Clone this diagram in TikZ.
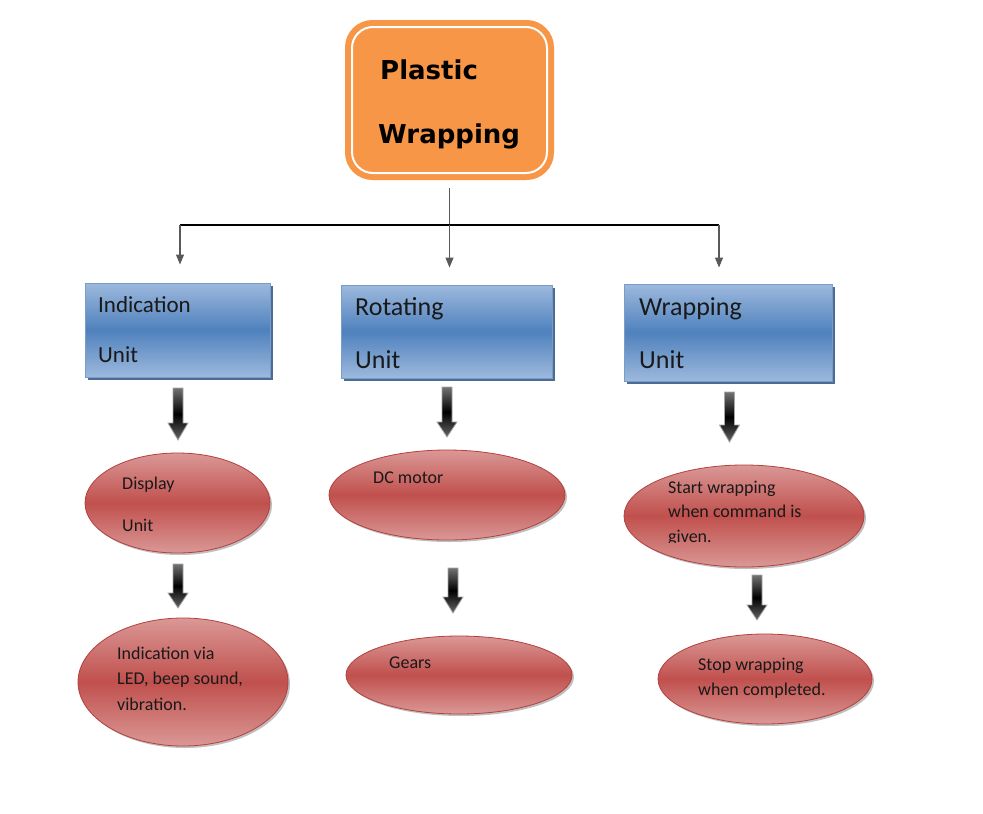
\documentclass[tikz,border=0pt]{standalone}
\usepackage{fontspec}
\setmainfont{Carlito}
\newfontfamily\headfont{DejaVu Sans}
\usetikzlibrary{arrows.meta,shapes.geometric,shadows}
\definecolor{orfill}{HTML}{F79646}
\definecolor{bluemid}{HTML}{4F81BD}
\definecolor{bluelight}{HTML}{9DB9DD}
\definecolor{blueedge}{HTML}{7A9CC8}
\definecolor{blueshadow}{HTML}{385D8A}
\definecolor{redmid}{HTML}{C0504D}
\definecolor{redlight}{HTML}{DA9896}
\definecolor{rededge}{HTML}{B5403D}
\tikzset{
  topbox/.style={draw=orfill, line width=3pt, fill=orfill, rounded corners=26pt,
    minimum width=206pt, minimum height=157pt, inner sep=0pt},
  unitbox/.style={draw=blueedge, line width=1pt, top color=bluelight, bottom color=bluelight,
    middle color=bluemid, inner sep=0pt,
    general shadow={shadow xshift=3pt, shadow yshift=-3pt, fill=blueshadow, opacity=0.9}},
  oval/.style={ellipse, draw=rededge, line width=0.8pt, top color=redlight, bottom color=redlight,
    middle color=redmid, inner sep=0pt,
    general shadow={shadow xshift=2pt, shadow yshift=-2pt, fill=black, opacity=0.25}},
  headtxt/.style={font=\headfont\bfseries\fontsize{26}{30}\selectfont, anchor=mid west, inner sep=0pt},
  unittxt/.style={font=\fontsize{26}{30}\selectfont, anchor=mid west, inner sep=0pt, text=black!90},
  smalltxt/.style={font=\fontsize{18}{21}\selectfont, anchor=mid west, inner sep=0pt, text=black!90},
  link/.style={line width=1.2pt, draw=black!65, -{Triangle[width=8pt,length=10pt]}},
  blockarrow/.style={draw=gray!70, line width=0.8pt, top color=black!55, bottom color=black!60, middle color=black}
}
\newcommand\blockarr[4]{% x, top, headstart, tip
  \path[blockarrow] (#1-5,#2) -- (#1+5,#2) -- (#1+5,#3) -- (#1+10,#3) -- (#1,#4) -- (#1-10,#3) -- (#1-5,#3) -- cycle;}
\begin{document}
\begin{tikzpicture}[x=1pt,y=-1pt]
\useasboundingbox (0,0) rectangle (983,814);
\fill[white] (0,0) rectangle (983,814);

% top box
\node[topbox] (top) at (449.5,100) {};
\draw[white, line width=2pt, rounded corners=21pt] (352,27) rectangle (547,173);
\node[headtxt] (tt1) at (380,77) {Plastic};
\node[headtxt] (tt2) at (378,141) {Wrapping};

% unit boxes
\node[unitbox, minimum width=185pt, minimum height=94pt] (b1) at (177.5,330) {};
\node[unitbox, minimum width=211pt, minimum height=93pt] (b2) at (446.5,331.5) {};
\node[unitbox, minimum width=208pt, minimum height=97pt] (b3) at (728,332.5) {};
\node[unittxt, font=\fontsize{23}{27}\selectfont] (b1a) at (98,310) {Indication};
\node[unittxt, font=\fontsize{23}{27}\selectfont] (b1b) at (98,360) {Unit};
\node[unittxt] (b2a) at (355,313) {Rotating};
\node[unittxt] (b2b) at (355,366) {Unit};
\node[unittxt] (b3a) at (639,313) {Wrapping};
\node[unittxt] (b3b) at (639,366) {Unit};

% tree connectors
\coordinate (j) at (449.5,225);
\coordinate (jl) at (180,225);
\coordinate (jr) at (719,225);
\draw[line width=1.2pt, draw=black!65] ([yshift=-8pt]top.south) -- (j);
\draw[line width=1.2pt] (jl) -- (jr);
\draw[link] (j) -- ([yshift=17pt]b2.north -| j);
\draw[link] (jl) -- ([yshift=18pt]b1.north -| jl);
\draw[link] (jr) -- ([yshift=16pt]b3.north -| jr);

% ellipses
\node[oval, minimum width=185pt, minimum height=100pt] (e1) at (177.5,503) {};
\node[oval, minimum width=236pt, minimum height=90pt] (e2) at (447,495) {};
\node[oval, minimum width=240pt, minimum height=102pt] (e3) at (744,516) {};
\node[oval, minimum width=210pt, minimum height=128pt] (e4) at (183,682) {};
\node[oval, minimum width=226pt, minimum height=78pt] (e5) at (459,675) {};
\node[oval, minimum width=214pt, minimum height=90pt] (e6) at (765,679) {};

\node[smalltxt] (e1a) at (122,487) {Display};
\node[smalltxt] (e1b) at (122,529) {Unit};
\node[smalltxt] (e2a) at (373,481) {DC motor};
\node[smalltxt] (e3a) at (668,491) {Start wrapping};
\node[smalltxt] (e3b) at (668,515) {when command is};
\begin{scope}
\clip (600,522) rectangle (880,542);
\node[smalltxt] (e3c) at (668,540) {given.};
\end{scope}
\node[smalltxt] (e4a) at (117,657) {Indication via};
\node[smalltxt] (e4b) at (117,682) {LED, beep sound,};
\node[smalltxt] (e4c) at (117,708) {vibration.};
\node[smalltxt] (e5a) at (389,666) {Gears};
\node[smalltxt] (e6a) at (698,668) {Stop wrapping};
\node[smalltxt] (e6b) at (698,693) {when completed.};

% block arrows
\blockarr{178}{388}{423}{440}
\blockarr{447}{387}{422}{437}
\blockarr{729.5}{392}{425}{442}
\blockarr{178}{564}{593}{608}
\blockarr{453}{568}{597}{613}
\blockarr{757}{575}{605}{620}
\end{tikzpicture}
\end{document}
